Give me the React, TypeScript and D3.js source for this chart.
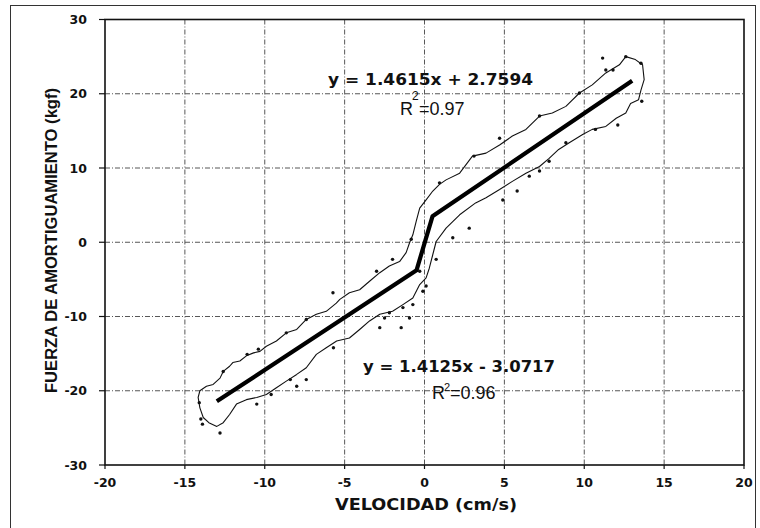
import React from "react";
import * as d3 from "d3";

const xTicks = [-20, -15, -10, -5, 0, 5, 10, 15, 20];
const yTicks = [-30, -20, -10, 0, 10, 20, 30];

// fitted trend (thick line)
const trendX = [-13, -0.5, 0.5, 13];
const trendY = [-21.43, -3.78, 3.49, 21.76];

// outline of measured loop (upper branch then lower branch)
const outlineX = [
  -14.06, -13.65, -13.23, -12.8, -12.6, -12.2, -12.0, -11.56, -11.15, -10.7, -10.3, -9.9, -9.27, -8.65, -8.0, -7.4,
  -6.77, -6.15, -5.52, -5.3, -4.7, -4.06, -3.44, -2.8, -2.2, -1.56, -1.15, -0.94, -0.73, -0.52, -0.3, 0.1, 0.52,
  0.94, 1.35, 2.2, 3.0, 3.85, 4.7, 5.5, 6.35, 7.2, 8.0, 8.85, 9.7, 10.5, 11.35, 12.2, 12.6, 13.2, 13.65, 13.75,
  13.55, 13.4,
  12.9, 12.6, 12.0, 11.35, 10.5, 9.9, 9.06, 8.4, 7.8, 7.2, 6.35, 5.5, 4.7, 3.85, 3.2, 2.2, 1.35, 0.73, 0.52, 0.3,
  0.1, -0.3, -0.73, -1.35, -2.0, -2.8, -3.44, -4.06, -4.7, -5.5, -6.15, -6.77, -7.4, -8.0, -8.65, -9.27, -9.9,
  -10.5, -11.15, -11.77, -12.2, -12.6, -13.0, -13.5, -13.85, -14.06, -14.17, -14.06,
];
const outlineY = [
  -20.0, -19.4, -19.15, -18.3, -17.4, -16.7, -16.2, -16.0, -15.3, -14.9, -14.7, -14.0, -13.3, -12.2, -11.75, -10.4,
  -9.7, -9.3, -8.2, -7.7, -6.8, -6.4, -5.25, -4.1, -3.2, -2.6, -1.4, -0.1, 1.0, 2.8, 4.6, 5.7, 6.9,
  7.8, 8.4, 9.3, 11.6, 12.0, 13.1, 14.3, 15.2, 17.0, 17.4, 18.3, 20.1, 21.2, 22.8, 23.9, 25.0, 24.6, 23.9, 21.9,
  20.5, 19.2,
  18.7, 17.4, 16.7, 15.6, 15.2, 14.5, 13.4, 12.5, 11.3, 10.2, 9.3, 8.2, 7.1, 6.0, 5.3, 3.7, 1.9, 0.1, -1.65, -3.5,
  -4.8, -5.7, -7.5, -8.4, -9.3, -9.7, -10.6, -11.75, -12.9, -13.3, -14.2, -15.1, -16.9, -17.8, -18.7, -19.6, -20.5,
  -20.9, -21.2, -21.8, -23.2, -24.3, -24.8, -24.3, -23.6, -22.3, -20.9, -20.0,
];

// scattered measurement points
const dotX = [
  -5.73, -12.8, -7.4, -8.0, -9.6, -10.5, -8.4, -10.4, -5.7, -14.0, -13.9, -14.1, -12.6, -11.1, -8.65, -7.4, -3.0,
  -2.0, -0.83, 0.94, 1.77, 0.73, -0.1, 0.1, -0.73, -1.35, -0.94, -2.8, -1.46, -2.2, -2.5, -0.3,
  11.15, 12.1, 5.8, 4.9, 7.8, 7.2, 4.7, 3.1, 11.35, 11.8, 13.55, 10.7, 8.85, 6.56, 2.8, 13.6, 7.2, 9.7, 12.6,
];
const dotY = [
  -6.8, -25.7, -18.5, -19.4, -20.5, -21.8, -18.5, -14.4, -14.2, -23.8, -24.5, -21.6, -17.4, -15.1, -12.2, -10.4, -3.9,
  -2.3, 0.4, 8.0, 0.6, -2.3, -6.6, -5.9, -8.4, -8.8, -10.2, -11.5, -11.5, -9.5, -10.2, -3.9,
  24.8, 15.8, 6.9, 5.7, 10.9, 9.6, 14.0, 11.6, 23.2, 23.2, 24.1, 15.2, 13.4, 8.9, 1.9, 19.0, 17.0, 20.1, 25.0,
];

const W = 760;
const H = 528;
const left = 105;
const right = 744;
const top = 19.5;
const bottom = 465;

export default function App() {
  const x = d3.scaleLinear().domain([-20, 20]).range([left, right]);
  const y = d3.scaleLinear().domain([-30, 30]).range([bottom, top]);

  const line = d3
    .line<[number, number]>()
    .x((d) => x(d[0]))
    .y((d) => y(d[1]));

  const trend = line(trendX.map((v, i) => [v, trendY[i]] as [number, number])) || "";
  const outline = line(outlineX.map((v, i) => [v, outlineY[i]] as [number, number])) || "";

  const gridX = xTicks.filter((t) => t > -20 && t < 20);
  const gridY = yTicks.filter((t) => t > -30 && t < 30);

  const tickFont = "'DejaVu Sans', Verdana, sans-serif";
  const arial = "'Liberation Sans', Arial, sans-serif";

  return (
    <svg
      width={W}
      height={H}
      style={{ position: "absolute", left: 0, top: 0, background: "#fff" }}
    >
      <rect x={0} y={0} width={W} height={H} fill="#fff" />
      {/* outer frame */}
      <rect x={10.5} y={5.5} width={745} height={560} fill="none" stroke="#333" strokeWidth={1} />

      {/* grid */}
      {gridX.map((t) => (
        <line
          key={"gx" + t}
          x1={x(t)}
          x2={x(t)}
          y1={top}
          y2={bottom}
          stroke="#444"
          strokeWidth={0.9}
          strokeDasharray="5,2,1,2"
        />
      ))}
      {gridY.map((t) => (
        <line
          key={"gy" + t}
          x1={left}
          x2={right}
          y1={y(t)}
          y2={y(t)}
          stroke="#444"
          strokeWidth={0.9}
          strokeDasharray="5,2,1,2"
        />
      ))}

      {/* plot frame */}
      <rect
        x={left}
        y={top}
        width={right - left}
        height={bottom - top}
        fill="none"
        stroke="#111"
        strokeWidth={1.6}
      />

      {/* ticks */}
      {yTicks.map((t) => (
        <line key={"ty" + t} x1={left - 6} x2={left} y1={y(t)} y2={y(t)} stroke="#111" strokeWidth={1.2} />
      ))}
      {xTicks.map((t) => (
        <line key={"tx" + t} x1={x(t)} x2={x(t)} y1={bottom} y2={bottom + 4} stroke="#111" strokeWidth={1.2} />
      ))}

      {/* tick labels */}
      {yTicks.map((t) => (
        <text
          key={"ly" + t}
          x={left - 18}
          y={y(t) + 4.5}
          textAnchor="end"
          fontFamily={tickFont}
          fontWeight="bold"
          fontSize={12.5}
          fill="#111"
        >
          {t}
        </text>
      ))}
      {xTicks.map((t) => (
        <text
          key={"lx" + t}
          x={x(t)}
          y={bottom + 22}
          textAnchor="middle"
          fontFamily={tickFont}
          fontWeight="bold"
          fontSize={12.5}
          fill="#111"
        >
          {t}
        </text>
      ))}

      {/* axis titles */}
      <text
        x={426}
        y={510}
        textAnchor="middle"
        fontFamily={tickFont}
        fontWeight="bold"
        fontSize={15}
        textLength={182}
        lengthAdjust="spacingAndGlyphs"
        fill="#111"
      >
        VELOCIDAD (cm/s)
      </text>
      <text
        transform="translate(57,240.5) rotate(-90)"
        textAnchor="middle"
        fontFamily="'Liberation Sans Narrow', 'Liberation Sans', Arial, sans-serif"
        fontWeight="bold"
        fontSize={16.5}
        textLength={305}
        lengthAdjust="spacingAndGlyphs"
        fill="#111"
      >
        FUERZA DE AMORTIGUAMIENTO (kgf)
      </text>

      {/* data */}
      <path d={outline} fill="none" stroke="#111" strokeWidth={1.1} strokeLinejoin="round" />
      {dotX.map((v, i) => (
        <circle key={"d" + i} cx={x(v)} cy={y(dotY[i])} r={1.7} fill="#111" />
      ))}
      <path d={trend} fill="none" stroke="#000" strokeWidth={4.2} strokeLinejoin="round" />

      {/* equations */}
      <text
        x={328}
        y={85}
        fontFamily={tickFont}
        fontWeight="bold"
        fontSize={16}
        textLength={205}
        lengthAdjust="spacingAndGlyphs"
        fill="#111"
      >
        y = 1.4615x + 2.7594
      </text>
      <text x={400} y={115} fontFamily={arial} fontSize={18} fill="#111">R</text>
      <text x={412} y={100} fontFamily={arial} fontSize={12} fill="#111">2</text>
      <text x={419} y={115} fontFamily={arial} fontSize={18} fill="#111">=0.97</text>

      <text
        x={363}
        y={372}
        fontFamily={tickFont}
        fontWeight="bold"
        fontSize={16}
        textLength={192}
        lengthAdjust="spacingAndGlyphs"
        fill="#111"
      >
        y = 1.4125x - 3.0717
      </text>
      <text x={432} y={399} fontFamily={arial} fontSize={18} fill="#111">R</text>
      <text x={444} y={391} fontFamily={arial} fontSize={11} fill="#111">2</text>
      <text x={450} y={399} fontFamily={arial} fontSize={18} fill="#111">=0.96</text>
    </svg>
  );
}
